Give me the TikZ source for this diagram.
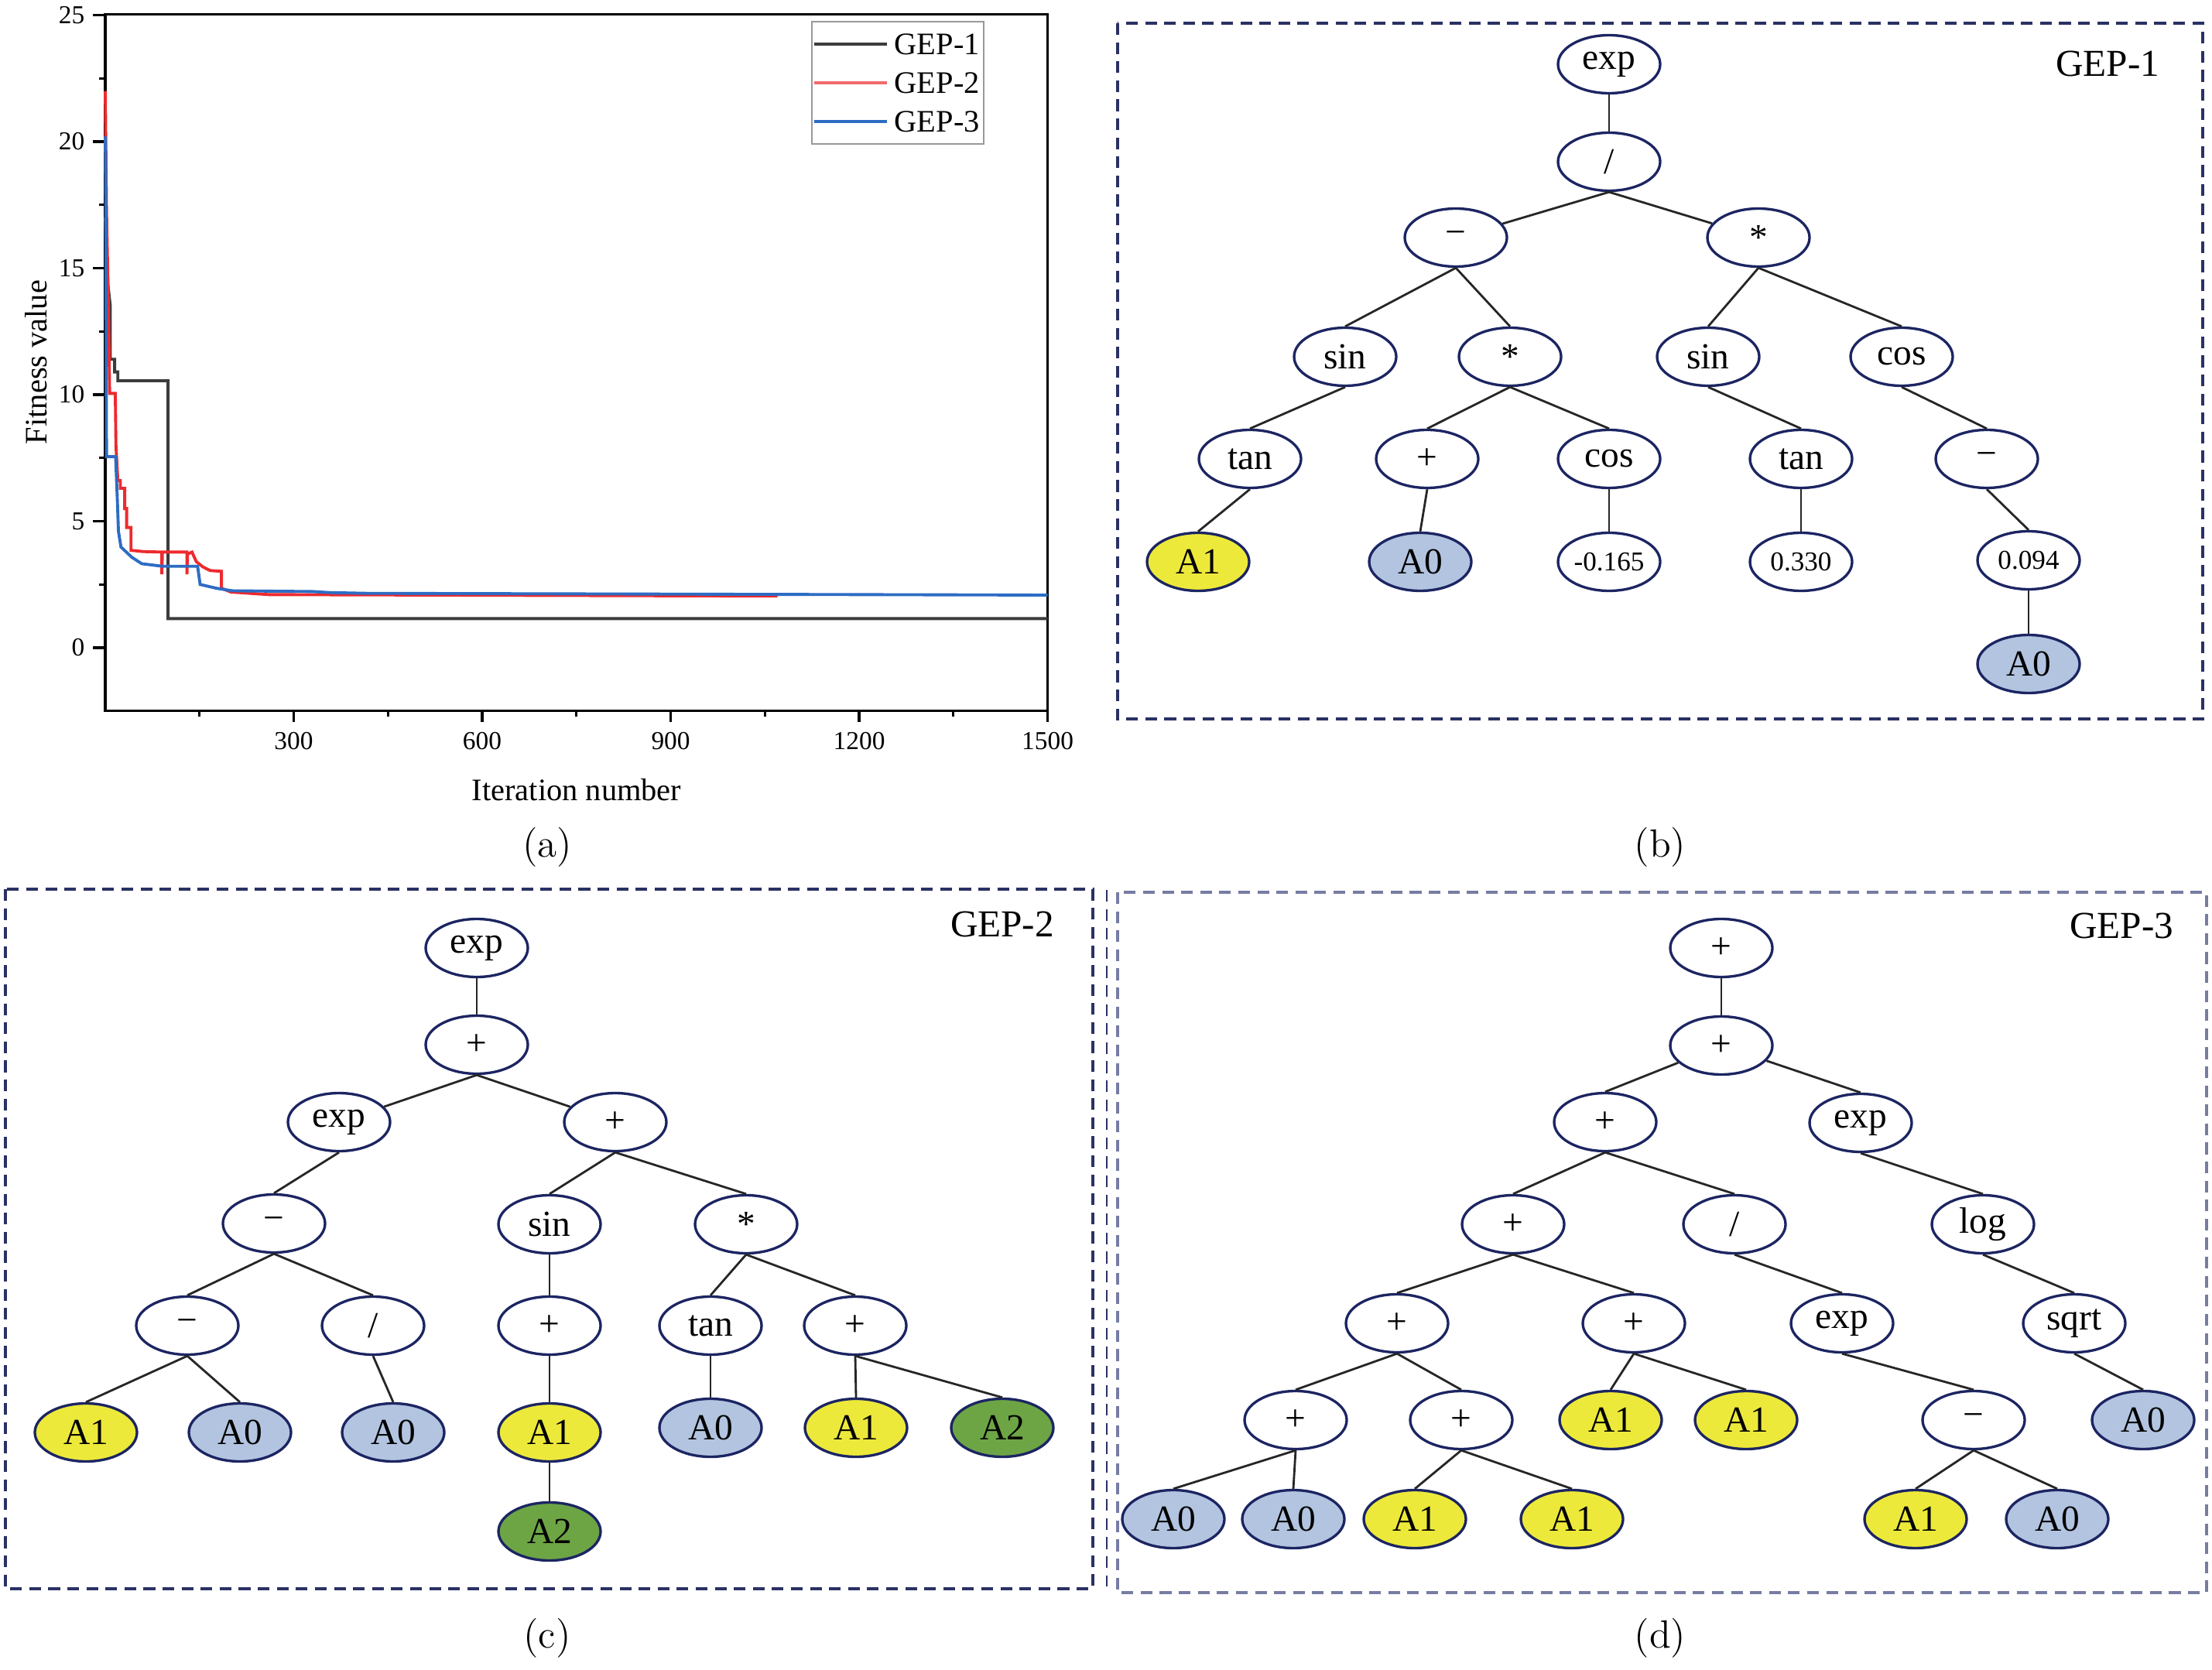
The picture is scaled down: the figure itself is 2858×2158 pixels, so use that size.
\documentclass[tikz,border=0pt]{standalone}
\usepackage{fontspec}
\newfontfamily\timesfont{Liberation Serif}
\usetikzlibrary{shapes.geometric}

\definecolor{navy}{HTML}{1C2562}
\definecolor{boxnavy}{HTML}{2A3163}
\definecolor{boxgrey}{HTML}{767CA2}
\definecolor{aone}{HTML}{EDE93B}
\definecolor{azero}{HTML}{B2C4E0}
\definecolor{atwo}{HTML}{6DA545}
\definecolor{gepred}{HTML}{EE2A2E}
\definecolor{gepblue}{HTML}{2D6CC4}
\definecolor{gepblack}{HTML}{3C3C3C}

\tikzset{
  gene/.style={ellipse, draw=navy, line width=0.95pt, fill=white,
    minimum width=13.2mm, minimum height=7.5mm, inner sep=0pt,
    font=\timesfont\fontsize{13.5}{14}\selectfont},
  num/.style={gene, font=\timesfont\fontsize{10}{11}\selectfont},
  Aone/.style={gene, fill=aone},
  Azero/.style={gene, fill=azero},
  Atwo/.style={gene, fill=atwo},
  link/.style={draw=black!85, line width=0.8pt},
  panel/.style={dash pattern=on 4.3pt off 2.7pt, line width=0.9pt},
  tag/.style={font=\timesfont\fontsize{14}{15}\selectfont},
  sub/.style={font=\fontsize{14.5}{16}\selectfont},
  ticklab/.style={font=\timesfont\fontsize{9.5}{10}\selectfont, inner sep=0pt},
  axlab/.style={font=\timesfont\fontsize{11.5}{12}\selectfont},
}

\begin{document}
\begin{tikzpicture}[x=0.1mm, y=-0.1mm]
   \useasboundingbox (0,0) rectangle (2858,2158);

   % (a) fitness curves
   \begin{scope}[shift={(136,837)}, x=0.08118mm, y=3.27mm]
       \draw[line width=0.9pt] (0,-2.5) rectangle (1500,25.03);
       \foreach \t in {300,600,...,1500}{
           \draw[line width=0.9pt] (\t,-2.5) -- (\t,-2.93);
           \node[ticklab] (xl\t) at (\t,-3.7) {\t};
       }
       \foreach \t in {150,450,...,1350}
           \draw[line width=0.9pt] (\t,-2.5) -- (\t,-2.71);
       \foreach \y in {0,5,...,25}{
           \draw[line width=0.9pt] (0,\y) -- (-19.7,\y);
           \node[ticklab, anchor=east] (yl\y) at (-32,\y) {\y};
       }
       \foreach \y in {2.5,7.5,...,22.5}
           \draw[line width=0.9pt] (0,\y) -- (-9.9,\y);
       \draw[gepblack, line width=1.1pt] (0,17) -- (4,14.4) -- (8,13.5) -- (8,11.4)
           -- (15,11.4) -- (15,10.9) -- (20,10.9) -- (20,10.55) -- (100,10.55)
           -- (100,1.15) -- (1500,1.15);
       \draw[gepred, line width=1.1pt] (0,22) -- (2,17.3) -- (5,13.5) -- (7,10.05)
           -- (16,10.05) -- (17,8) -- (20,6.6) -- (24,6.6) -- (24,6.3) -- (31,6.3)
           -- (31,5.5) -- (34,5.5) -- (34,4.75) -- (41,4.75) -- (41,3.85)
           -- (60,3.8) -- (90,3.78) -- (90,2.9) -- (91,3.78) -- (130,3.78)
           -- (130,2.9) -- (131,3.7) -- (138,3.78) -- (145,3.4) -- (155,3.2)
           -- (167,3.05) -- (185,3.02) -- (185,2.35) -- (200,2.2) -- (260,2.1)
           -- (1070,2.04);
       \draw[gepblue, line width=1.1pt] (0,20.2) -- (1,17.5) -- (2,7.55) -- (16.5,7.55)
           -- (19,6) -- (21,4.6) -- (25,3.98) -- (42,3.58) -- (58,3.32)
           -- (91,3.22) -- (147,3.22) -- (151,2.5) -- (177,2.35) -- (202,2.25)
           -- (330,2.22) -- (356,2.18) -- (415,2.15) -- (1500,2.08);
   \end{scope}
   \node[axlab] (xlab) at (745,1021) {Iteration number};
   \node[axlab, rotate=90] (ylab) at (47,468) {Fitness value};
   \draw[black!40, line width=0.5pt] (1049,28) rectangle (1271,186);
   \draw[gepblack, line width=1pt] (1052,57) -- (1146,57);
   \draw[gepred!70, line width=1.2pt] (1052,107) -- (1146,107);
   \draw[gepblue, line width=1pt] (1052,157) -- (1146,157);
   \node[axlab, anchor=west, inner sep=0pt] (l1) at (1155,57) {GEP-1};
   \node[axlab, anchor=west, inner sep=0pt] (l2) at (1155,107) {GEP-2};
   \node[axlab, anchor=west, inner sep=0pt] (l3) at (1155,157) {GEP-3};

   % (b) GEP-1
   \draw[panel, draw=boxnavy] (1444,30) rectangle (2846,929);
   \node[tag] (t1) at (2723,82) {GEP-1};
   \node[gene] (b1) at (2079,83) {exp};
   \node[gene] (b2) at (2079,209) {/};
   \node[gene] (b3) at (1881,307) {−};
   \node[gene] (b4) at (2272,307) {*};
   \node[gene] (b5) at (1738,461) {sin};
   \node[gene] (b6) at (1951,461) {*};
   \node[gene] (b7) at (2207,461) {sin};
   \node[gene] (b8) at (2457,461) {cos};
   \node[gene] (b9) at (1615,593) {tan};
   \node[gene] (b10) at (1844,593) {+};
   \node[gene] (b11) at (2079,593) {cos};
   \node[gene] (b12) at (2327,593) {tan};
   \node[gene] (b13) at (2567,593) {−};
   \node[Aone] (b14) at (1548,726) {A1};
   \node[Azero] (b15) at (1835,726) {A0};
   \node[num] (b16) at (2079,726) {-0.165};
   \node[num] (b17) at (2327,726) {0.330};
   \node[num] (b18) at (2621,724) {0.094};
   \node[Azero] (b19) at (2621,858) {A0};
   \foreach \p/\c in {b1/b2,b3/b5,b3/b6,b4/b7,b4/b8,b5/b9,b6/b10,b6/b11,
                      b7/b12,b8/b13,b9/b14,b10/b15,b11/b16,b12/b17,b13/b18,b18/b19}
       \draw[link] (\p.south) -- (\c.north);
   \foreach \c in {b3,b4}
       \draw[link] (b2.south) -- (\c);

   % (c) GEP-2
   \draw[panel, draw=boxnavy] (7,1149) rectangle (1412,2053);
   \node[tag] (t2) at (1295,1194) {GEP-2};
   \node[gene] (c1) at (616,1225) {exp};
   \node[gene] (c2) at (616,1350) {+};
   \node[gene] (c3) at (438,1450) {exp};
   \node[gene] (c4) at (795,1450) {+};
   \node[gene] (c5) at (354,1581) {−};
   \node[gene] (c6) at (710,1582) {sin};
   \node[gene] (c7) at (964,1582) {*};
   \node[gene] (c8) at (242,1713) {−};
   \node[gene] (c9) at (482,1713) {/};
   \node[gene] (c10) at (710,1713) {+};
   \node[gene] (c11) at (918,1713) {tan};
   \node[gene] (c12) at (1105,1713) {+};
   \node[Aone] (c13) at (111,1851) {A1};
   \node[Azero] (c14) at (310,1851) {A0};
   \node[Azero] (c15) at (508,1851) {A0};
   \node[Aone] (c16) at (710,1851) {A1};
   \node[Azero] (c17) at (918,1845) {A0};
   \node[Aone] (c18) at (1106,1845) {A1};
   \node[Atwo] (c19) at (1295,1845) {A2};
   \node[Atwo] (c20) at (710,1979) {A2};
   \foreach \p/\c in {c1/c2,c3/c5,c4/c6,c4/c7,c5/c8,c5/c9,c6/c10,c7/c11,c7/c12,
                      c8/c13,c8/c14,c9/c15,c10/c16,c11/c17,c12/c18,c12/c19,c16/c20}
       \draw[link] (\p.south) -- (\c.north);
   \foreach \c in {c3,c4}
       \draw[link] (c2.south) -- (\c);

   % (d) GEP-3
   \draw[panel, draw=boxnavy, line width=0.5pt] (1430,1150) -- (1430,2050);
   \draw[panel, draw=boxgrey] (1444,1153) rectangle (2851,2058);
   \node[tag] (t3) at (2741,1196) {GEP-3};
   \node[gene] (d1) at (2224,1225) {+};
   \node[gene] (d2) at (2224,1351) {+};
   \node[gene] (d3) at (2074,1450) {+};
   \node[gene] (d4) at (2404,1451) {exp};
   \node[gene] (d5) at (1955,1582) {+};
   \node[gene] (d6) at (2241,1582) {/};
   \node[gene] (d7) at (2562,1582) {log};
   \node[gene] (d8) at (1805,1710) {+};
   \node[gene] (d9) at (2111,1710) {+};
   \node[gene] (d10) at (2380,1710) {exp};
   \node[gene] (d11) at (2680,1710) {sqrt};
   \node[gene] (d12) at (1674,1835) {+};
   \node[gene] (d13) at (1888,1835) {+};
   \node[Aone] (d14) at (2081,1835) {A1};
   \node[Aone] (d15) at (2256,1835) {A1};
   \node[gene] (d16) at (2550,1835) {−};
   \node[Azero] (d17) at (2769,1835) {A0};
   \node[Azero] (d18) at (1516,1963) {A0};
   \node[Azero] (d19) at (1671,1963) {A0};
   \node[Aone] (d20) at (1828,1963) {A1};
   \node[Aone] (d21) at (2031,1963) {A1};
   \node[Aone] (d22) at (2475,1963) {A1};
   \node[Azero] (d23) at (2658,1963) {A0};
   \foreach \p/\c in {d1/d2,d3/d5,d3/d6,d4/d7,d5/d8,d5/d9,d6/d10,d7/d11,d8/d12,d8/d13,
                      d9/d14,d9/d15,d10/d16,d11/d17,d12/d18,d12/d19,d13/d20,d13/d21,
                      d16/d22,d16/d23}
       \draw[link] (\p.south) -- (\c.north);
   \foreach \c in {d3,d4}
       \draw[link] (d2) -- (\c.north);

   % sub-captions
   \node[sub] (sa) at (707,1095) {(a)};
   \node[sub] (sb) at (2145,1095) {(b)};
   \node[sub] (sc) at (707,2117) {(c)};
   \node[sub] (sd) at (2145,2117) {(d)};
\end{tikzpicture}
\end{document}
